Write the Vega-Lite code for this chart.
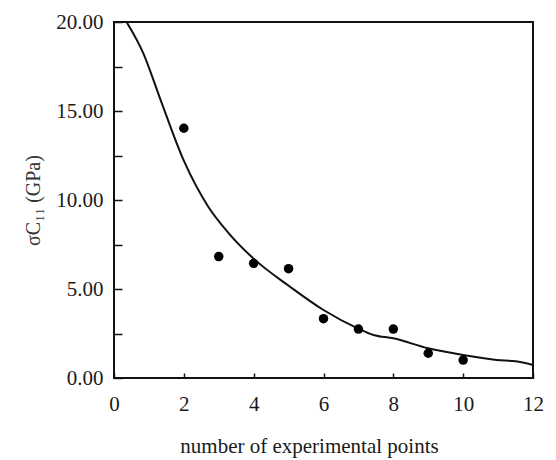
{
  "$schema": "https://vega.github.io/schema/vega-lite/v6.json",
  "width": 419,
  "height": 356,
  "autosize": {"type": "none"},
  "padding": {"left": 114, "top": 22, "right": 23, "bottom": 82},
  "background": "white",
  "config": {
    "view": {"stroke": "#111", "strokeWidth": 2},
    "font": "Liberation Serif",
    "axis": {
      "grid": false,
      "ticks": true,
      "domain": false,
      "zindex": 1,
      "tickColor": "#111",
      "tickWidth": 1.5,
      "labelFont": "Liberation Serif",
      "labelFontSize": 21,
      "labelColor": "#1a1a1a",
      "titleFont": "Liberation Serif",
      "titleFontWeight": "normal",
      "titleColor": "#1a1a1a"
    }
  },
  "layer": [
    {
      "data": {"values": [
        {"n": 0.36, "s": 20.0},
        {"n": 0.84, "s": 18.24},
        {"n": 1.32, "s": 15.7},
        {"n": 1.99, "s": 12.25},
        {"n": 2.7, "s": 9.62},
        {"n": 3.3, "s": 8.1},
        {"n": 3.99, "s": 6.72},
        {"n": 5.04, "s": 5.13},
        {"n": 6.0, "s": 3.82},
        {"n": 6.98, "s": 2.79},
        {"n": 7.43, "s": 2.42},
        {"n": 8.0, "s": 2.23},
        {"n": 9.0, "s": 1.67},
        {"n": 10.0, "s": 1.29},
        {"n": 10.96, "s": 1.01},
        {"n": 11.5, "s": 0.94},
        {"n": 12.0, "s": 0.73}
      ]},
      "mark": {"type": "line", "color": "#111", "strokeWidth": 2, "clip": true, "interpolate": "monotone"},
      "encoding": {
        "x": {"field": "n", "type": "quantitative"},
        "y": {"field": "s", "type": "quantitative"}
      }
    },
    {
      "data": {"values": [
        {"n": 2, "s": 14.03},
        {"n": 3, "s": 6.82},
        {"n": 4, "s": 6.44},
        {"n": 5, "s": 6.14},
        {"n": 6, "s": 3.33},
        {"n": 7, "s": 2.75},
        {"n": 8, "s": 2.75},
        {"n": 9, "s": 1.39},
        {"n": 10, "s": 1.01}
      ]},
      "mark": {"type": "circle", "color": "#000", "opacity": 1, "size": 90},
      "encoding": {
        "x": {
          "field": "n", "type": "quantitative",
          "scale": {"domain": [0, 12], "nice": false},
          "axis": {
            "title": "number of experimental points",
            "titleFontSize": 21,
            "titlePadding": 21,
            "titleX": 195,
            "values": [0,1,2,3,4,5,6,7,8,9,10,11,12],
            "format": "d",
            "labelExpr": "datum.value % 2 === 0 ? datum.label : ''",
            "offset": -5,
            "tickSize": 5,
            "labelPadding": 15,
            "labelFlush": false
          }
        },
        "y": {
          "field": "s", "type": "quantitative",
          "scale": {"domain": [0, 20], "nice": false},
          "axis": {
            "title": "σC₁₁ (GPa)",
            "titleFontSize": 20,
            "titleColor": "#333",
            "titlePadding": 12,
            "values": [0,2.5,5,7.5,10,12.5,15,17.5,20],
            "format": ".2f",
            "labelExpr": "datum.value % 5 === 0 ? datum.label : ''",
            "offset": -8,
            "tickSize": 8,
            "labelPadding": 11,
            "labelFlush": false
          }
        }
      }
    }
  ]
}
